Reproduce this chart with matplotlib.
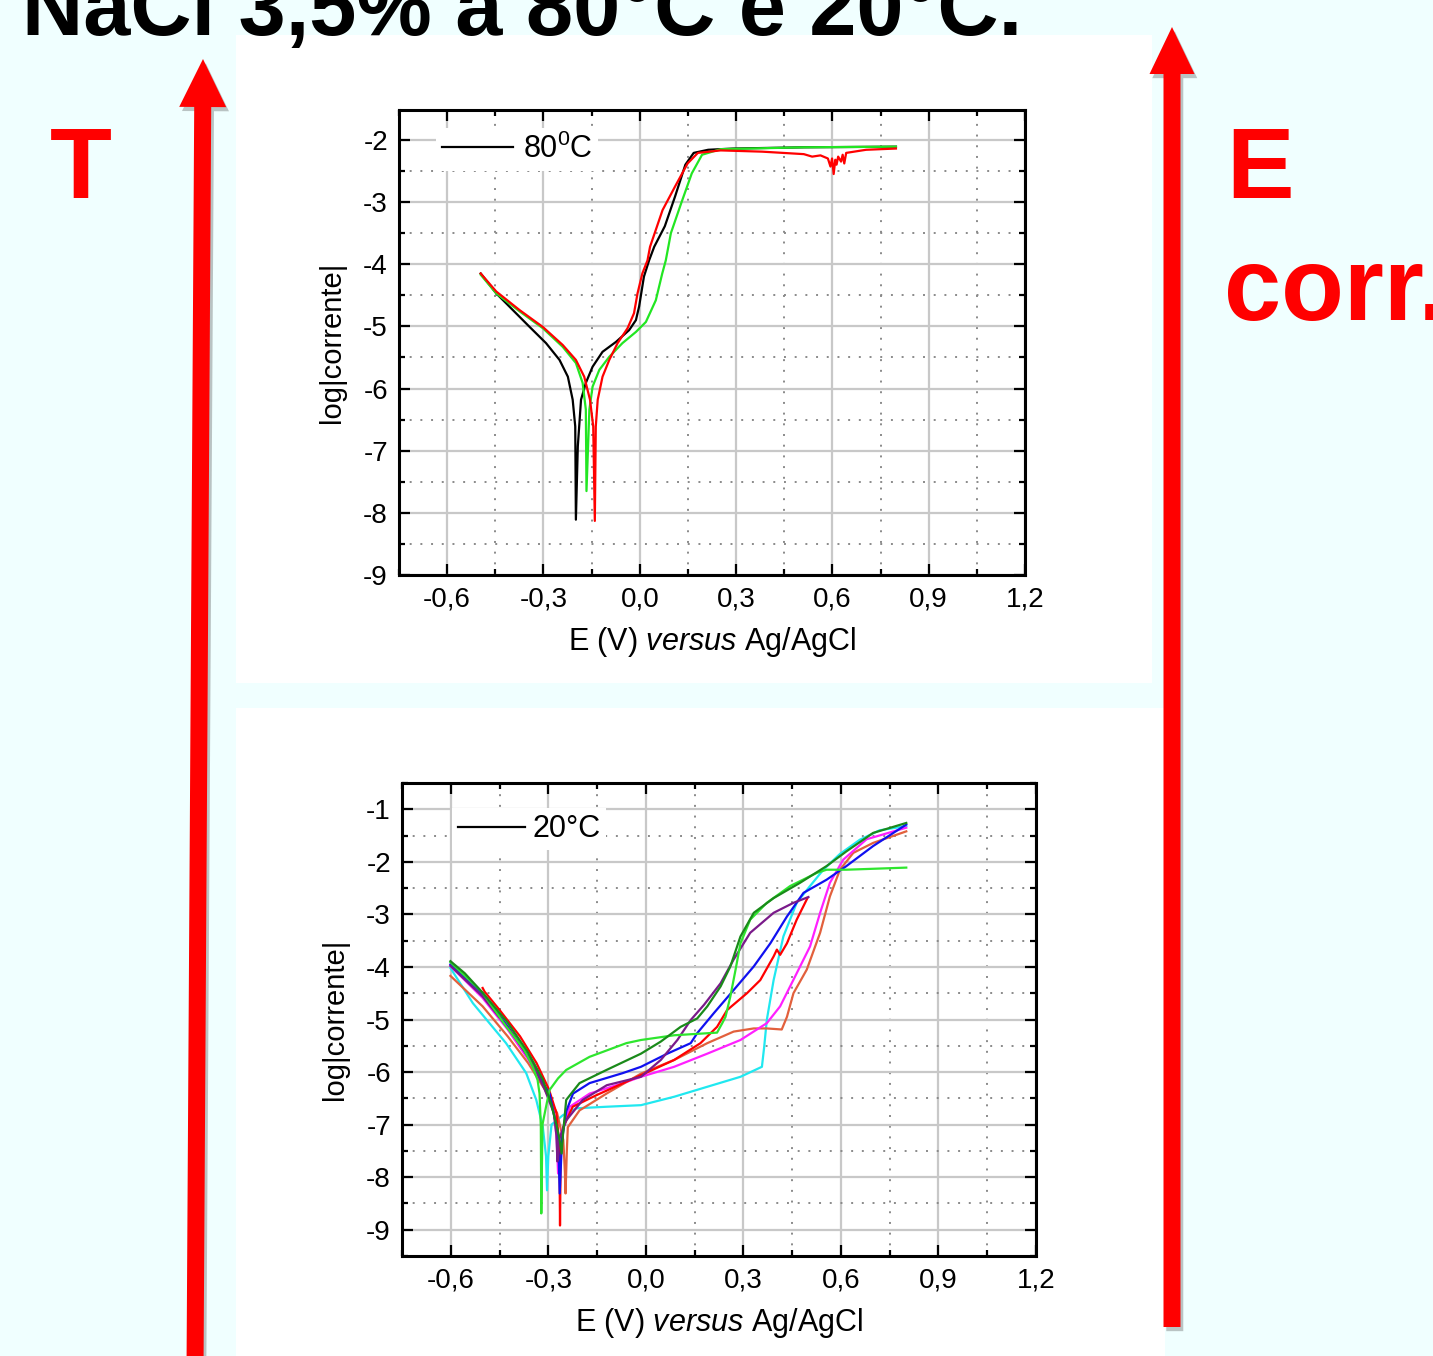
import matplotlib
matplotlib.use("Agg")
import matplotlib.pyplot as plt
from matplotlib.lines import Line2D
from matplotlib.patches import Rectangle, FancyArrow
import matplotlib.patheffects as pe

plt.rcParams['font.family'] = ['Liberation Sans', 'DejaVu Sans']
plt.rcParams['mathtext.fontset'] = 'custom'
plt.rcParams['mathtext.rm'] = 'Liberation Sans'
plt.rcParams['mathtext.it'] = 'Liberation Sans:italic'

# === Data: E (V vs Ag/AgCl) and log|corrente|

# 80 C
e80_black = [-0.4955, -0.447, -0.395, -0.343, -0.292, -0.250, -0.224, -0.209, -0.201, -0.199, -0.193,
             -0.183, -0.168, -0.147, -0.116, -0.074, -0.033, -0.012, -0.002, 0.013, 0.029, 0.045,
             0.078, 0.110, 0.142, 0.168, 0.213, 0.291, 0.511, 0.798]
i80_black = [-4.15, -4.47, -4.74, -5.01, -5.27, -5.54, -5.81, -6.18, -6.61, -8.11, -6.93,
             -6.18, -5.91, -5.65, -5.41, -5.25, -5.06, -4.90, -4.68, -4.20, -3.94, -3.72,
             -3.39, -2.91, -2.40, -2.21, -2.16, -2.14, -2.12, -2.11]

e80_red = [-0.4955, -0.447, -0.374, -0.302, -0.240, -0.199, -0.173, -0.155, -0.145, -0.140, -0.137,
           -0.131, -0.116, -0.095, -0.069, -0.038, -0.018, -0.007, 0.008, 0.024, 0.032, 0.071,
           0.110, 0.149, 0.181, 0.252, 0.381, 0.446, 0.511, 0.537, 0.563, 0.586, 0.594, 0.599,
           0.604, 0.609, 0.613, 0.618, 0.627, 0.632, 0.637, 0.643, 0.705, 0.798]
i80_red = [-4.15, -4.44, -4.74, -5.01, -5.30, -5.54, -5.81, -6.18, -6.61, -8.13, -6.61,
           -6.18, -5.81, -5.54, -5.27, -5.03, -4.79, -4.47, -4.15, -3.94, -3.72, -3.13,
           -2.75, -2.38, -2.21, -2.17, -2.19, -2.21, -2.23, -2.27, -2.25, -2.30, -2.43, -2.30,
           -2.55, -2.32, -2.40, -2.27, -2.35, -2.24, -2.38, -2.21, -2.16, -2.14]

e80_green = [-0.4955, -0.447, -0.374, -0.302, -0.240, -0.199, -0.178, -0.168, -0.166, -0.157, -0.147,
             -0.126, -0.095, -0.054, -0.012, 0.019, 0.050, 0.070, 0.081, 0.097, 0.129, 0.162,
             0.194, 0.252, 0.511, 0.798]
i80_green = [-4.17, -4.47, -4.76, -5.03, -5.33, -5.59, -5.91, -6.34, -7.65, -6.34, -5.97,
             -5.70, -5.49, -5.27, -5.09, -4.93, -4.58, -4.15, -3.94, -3.50, -3.02, -2.54,
             -2.24, -2.15, -2.12, -2.11]

# 20 C
e20_lime = [-0.601, -0.502, -0.430, -0.375, -0.348, -0.333, -0.327, -0.323, -0.3216, -0.318, -0.305,
            -0.296, -0.270, -0.245, -0.173, -0.060, -0.015, 0.087, 0.219, 0.235, 0.245, 0.260,
            0.276, 0.291, 0.321, 0.372, 0.444, 0.526, 0.556, 0.617, 0.801]
i20_lime = [-3.91, -4.49, -5.13, -5.57, -5.90, -6.15, -6.41, -7.04, -8.69, -7.00, -6.60,
            -6.34, -6.12, -5.96, -5.71, -5.45, -5.39, -5.30, -5.25, -5.07, -4.95, -4.56,
            -4.05, -3.55, -3.10, -2.78, -2.46, -2.21, -2.15, -2.15, -2.11]

e20_dkgreen = [-0.601, -0.557, -0.502, -0.425, -0.362, -0.317, -0.292, -0.275, -0.265, -0.259, -0.255,
               -0.245, -0.204, -0.121, -0.015, 0.046, 0.107, 0.158, 0.189, 0.230, 0.260, 0.291,
               0.332, 0.393, 0.474, 0.556, 0.617, 0.699, 0.801]
i20_dkgreen = [-3.89, -4.12, -4.49, -5.06, -5.63, -6.14, -6.59, -7.00, -7.30, -7.55, -7.20,
               -6.53, -6.21, -5.96, -5.65, -5.42, -5.14, -4.98, -4.75, -4.37, -3.99, -3.42,
               -2.97, -2.69, -2.40, -2.08, -1.80, -1.45, -1.26]

e20_cyan = [-0.601, -0.532, -0.430, -0.368, -0.337, -0.317, -0.307, -0.304, -0.300, -0.290, -0.255,
            -0.214, -0.121, -0.015, 0.087, 0.189, 0.291, 0.357, 0.364, 0.372, 0.393, 0.423,
            0.464, 0.505, 0.546, 0.597, 0.658, 0.719, 0.801]
i20_cyan = [-4.02, -4.69, -5.45, -6.02, -6.53, -7.04, -7.60, -8.25, -7.60, -7.00, -6.82,
            -6.69, -6.66, -6.63, -6.47, -6.28, -6.09, -5.90, -5.52, -5.01, -4.25, -3.42,
            -2.78, -2.46, -2.15, -1.85, -1.58, -1.40, -1.32]

e20_blue = [-0.601, -0.502, -0.425, -0.362, -0.317, -0.296, -0.275, -0.268, -0.265, -0.258, -0.245,
            -0.224, -0.173, -0.071, -0.015, 0.066, 0.138, 0.158, 0.209, 0.270, 0.332, 0.383,
            0.434, 0.485, 0.556, 0.617, 0.699, 0.801]
i20_blue = [-3.95, -4.52, -5.13, -5.70, -6.21, -6.41, -7.04, -7.60, -8.31, -7.30, -6.75,
            -6.41, -6.21, -6.02, -5.90, -5.65, -5.45, -5.26, -4.88, -4.44, -3.99, -3.55,
            -3.04, -2.59, -2.34, -2.08, -1.70, -1.29]

e20_purple = [-0.601, -0.502, -0.413, -0.349, -0.311, -0.283, -0.275, -0.272, -0.268, -0.245, -0.194,
              -0.120, -0.015, 0.046, 0.097, 0.138, 0.179, 0.230, 0.270, 0.321, 0.393, 0.454, 0.500]
i20_purple = [-3.98, -4.56, -5.25, -5.83, -6.33, -6.78, -7.20, -7.70, -7.30, -6.92, -6.53,
              -6.25, -6.09, -5.77, -5.39, -5.01, -4.72, -4.31, -3.86, -3.35, -2.97, -2.78, -2.67]

e20_red = [-0.502, -0.496, -0.451, -0.387, -0.336, -0.298, -0.275, -0.266, -0.264, -0.262, -0.254,
           -0.225, -0.152, -0.015, 0.087, 0.168, 0.219, 0.250, 0.311, 0.352, 0.393, 0.403,
           0.413, 0.434, 0.464, 0.497]
i20_red = [-4.40, -4.47, -4.81, -5.32, -5.83, -6.33, -6.78, -7.41, -8.92, -7.60, -7.05,
           -6.66, -6.44, -6.06, -5.77, -5.45, -5.14, -4.82, -4.50, -4.25, -3.80, -3.67,
           -3.77, -3.55, -3.10, -2.69]

e20_magenta = [-0.601, -0.502, -0.425, -0.362, -0.311, -0.283, -0.274, -0.270, -0.262, -0.234, -0.173,
               -0.070, -0.015, 0.087, 0.189, 0.291, 0.372, 0.413, 0.464, 0.505, 0.536, 0.566,
               0.607, 0.679, 0.801]
i20_magenta = [-3.98, -4.59, -5.19, -5.76, -6.27, -6.71, -7.30, -7.93, -7.20, -6.66, -6.41,
               -6.21, -6.09, -5.90, -5.65, -5.39, -5.07, -4.75, -4.12, -3.61, -2.97, -2.40,
               -1.96, -1.57, -1.35]

e20_salmon = [-0.601, -0.502, -0.425, -0.362, -0.311, -0.273, -0.254, -0.249, -0.247, -0.243, -0.240,
              -0.204, -0.121, -0.015, 0.087, 0.189, 0.270, 0.332, 0.372, 0.418, 0.434, 0.454,
              0.495, 0.536, 0.566, 0.597, 0.638, 0.699, 0.801]
i20_salmon = [-4.17, -4.75, -5.32, -5.83, -6.33, -6.78, -7.29, -7.90, -8.31, -7.50, -7.05,
              -6.73, -6.41, -6.03, -5.77, -5.45, -5.23, -5.17, -5.17, -5.19, -4.95, -4.50,
              -4.05, -3.35, -2.66, -2.15, -1.83, -1.64, -1.42]

x_ticks = [-0.6, -0.3, 0.0, 0.3, 0.6, 0.9, 1.2]
x_ticklabels = ['-0,6', '-0,3', '0,0', '0,3', '0,6', '0,9', '1,2']
y80_ticks = [-9, -8, -7, -6, -5, -4, -3, -2]
y20_ticks = [-9, -8, -7, -6, -5, -4, -3, -2, -1]

# === Figure
fig = plt.figure(figsize=(14.33, 13.56), dpi=100)
fig.patch.set_facecolor('#f0ffff')
W, H = 1433, 1356

# white panels behind the two graphs
fig.add_artist(Rectangle((236 / W, 1 - 683 / H), 916 / W, 648 / H, transform=fig.transFigure,
                         facecolor='white', edgecolor='none', zorder=-1))
fig.add_artist(Rectangle((236 / W, 0), 929 / W, 648 / H, transform=fig.transFigure,
                         facecolor='white', edgecolor='none', zorder=-1))

ax1 = fig.add_axes([399 / W, 1 - 575 / H, 626 / W, 465 / H])
ax2 = fig.add_axes([402 / W, 1 - 1256 / H, 634 / W, 473 / H])


def style_axes(ax, yticks, ylim):
    ax.set_xticks(x_ticks)
    ax.set_xticklabels(x_ticklabels)
    ax.set_yticks(yticks)
    ax.set_yticklabels([str(t) for t in yticks])
    ax.set_xticks([t + 0.15 for t in [-0.9] + x_ticks[:-1]], minor=True)
    ax.set_yticks([t + 0.5 for t in yticks] + [yticks[0] - 0.5], minor=True)
    ax.set_xlim(-0.75, 1.2)
    ax.set_ylim(*ylim)
    ax.set_axisbelow(True)
    ax.grid(which='major', color='#c8c8c8', lw=1.6, ls='-')
    ax.grid(which='minor', color='#8a8a8a', lw=1.4, ls=(0, (1, 4.5)))
    ax.tick_params(which='both', direction='in', top=True, right=True, labelsize=20, width=1.6)
    ax.tick_params(which='major', length=8, pad=8)
    ax.tick_params(which='minor', length=4)
    for s in ax.spines.values():
        s.set_linewidth(2.2)
    ax.set_xlabel('E (V) $\\mathit{versus}$ Ag/AgCl', fontsize=22, labelpad=9)
    ax.set_ylabel('log|corrente|', fontsize=21, labelpad=12)


# === 80 C
ax1.plot(e80_black, i80_black, color='black', lw=1.6)
ax1.plot(e80_green, i80_green, color='#22e622', lw=1.6)
ax1.plot(e80_red, i80_red, color='#ff0000', lw=1.6)
style_axes(ax1, y80_ticks, (-9, -1.52))
ax1.legend([Line2D([], [], color='black', lw=1.6)], ['80$^\\mathregular{0}$C'],
           loc='upper left', bbox_to_anchor=(0.034, 0.995), fontsize=22,
           handlelength=2.32, handletextpad=0.33, borderpad=0.2, fancybox=False,
           framealpha=1, facecolor='white', edgecolor='none')

# === 20 C
ax2.plot(e20_cyan, i20_cyan, color='#20e8f0', lw=1.6)
ax2.plot(e20_salmon, i20_salmon, color='#e2603c', lw=1.6)
ax2.plot(e20_magenta, i20_magenta, color='#ff20ff', lw=1.6)
ax2.plot(e20_red, i20_red, color='#ff0000', lw=1.6)
ax2.plot(e20_blue, i20_blue, color='#1010f0', lw=1.6)
ax2.plot(e20_purple, i20_purple, color='#7a1a8a', lw=1.6)
ax2.plot(e20_lime, i20_lime, color='#2ee62e', lw=1.6)
ax2.plot(e20_dkgreen, i20_dkgreen, color='#1a8a1a', lw=1.6)
style_axes(ax2, y20_ticks, (-9.5, -0.5))
ax2.legend([Line2D([], [], color='black', lw=1.6)], ['20°C'],
           loc='upper left', bbox_to_anchor=(0.055, 0.979), fontsize=22,
           handlelength=2.19, handletextpad=0.23, borderpad=0.2, fancybox=False,
           framealpha=1, facecolor='white', edgecolor='none')

# === Slide texts and arrows
fig.text(22 / W, 1 - 35 / H, 'NaCl 3,5% a 80°C e 20°C.', fontsize=61, fontweight='bold',
         color='black', ha='left', va='baseline')
fig.text(50 / W, 1 - 198 / H, 'T', fontsize=73, fontweight='bold', color='#ff0000',
         ha='left', va='baseline')
fig.text(1226 / W, 1 - 198 / H, 'E', fontsize=73, fontweight='bold', color='#ff0000',
         ha='left', va='baseline')
fig.text(1224 / W, 1 - 320 / H, 'corr.', fontsize=74, fontweight='bold', color='#ff0000',
         ha='left', va='baseline')

ov = fig.add_axes([0, 0, 1, 1], zorder=10)
ov.set_xlim(0, W)
ov.set_ylim(H, 0)
ov.axis('off')
ov.patch.set_alpha(0)
shadow = [pe.SimplePatchShadow(offset=(2, -3), shadow_rgbFace='#555555', alpha=0.35), pe.Normal()]
ov.add_patch(FancyArrow(195, 1370, 8, -1311, width=17, head_width=47, head_length=48,
                        length_includes_head=True, color='#ff0000', lw=0, path_effects=shadow))
ov.add_patch(FancyArrow(1172, 1327, 0, -1300, width=17, head_width=45, head_length=47,
                        length_includes_head=True, color='#ff0000', lw=0, path_effects=shadow))

fig.savefig('out.png', dpi=100, facecolor=fig.get_facecolor())
